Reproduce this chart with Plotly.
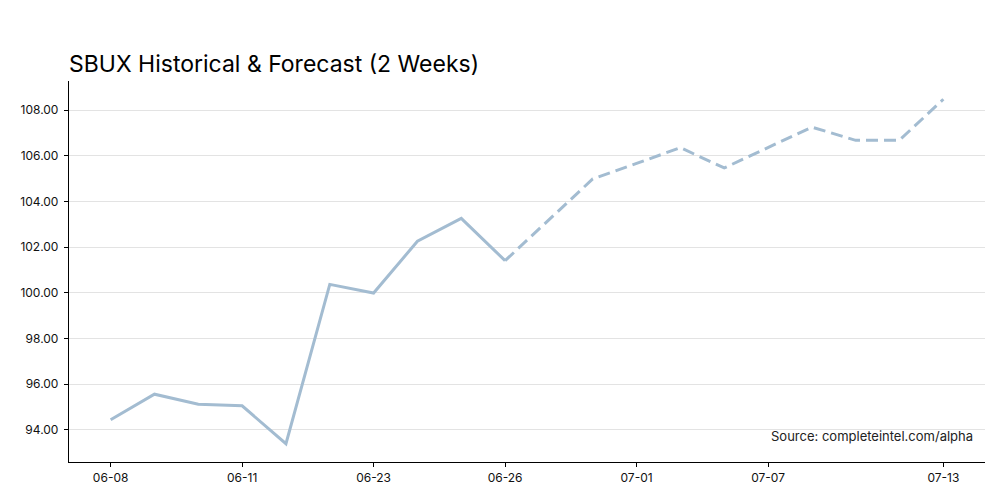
import plotly.graph_objects as go

dates = ["06-08", "06-09", "06-10", "06-11", "06-12", "06-13", "06-23", "06-24", "06-25", "06-26",
         "06-27", "06-30", "07-01", "07-02", "07-03", "07-07", "07-08", "07-09", "07-10", "07-13"]
hist_values = [94.44, 95.56, 95.12, 95.05, 93.39, 100.37, 99.99, 102.26, 103.26, 101.41]
fc_values = [101.41, 103.20, 104.99, 105.67, 106.36, 105.47, 106.36, 107.26, 106.68, 106.69, 108.48]
tick_dates = ["06-08", "06-11", "06-23", "06-26", "07-01", "07-07", "07-13"]
y_ticks = [94, 96, 98, 100, 102, 104, 106, 108]

color = "#a3bcd1"
font = "Inter, Roboto, sans-serif"

fig = go.Figure()
fig.add_trace(go.Scatter(x=dates[:10], y=hist_values, mode="lines",
                         line=dict(color=color, width=3), showlegend=False))
fig.add_trace(go.Scatter(x=dates[9:], y=fc_values, mode="lines",
                         line=dict(color=color, width=3, dash="12px,6px"), showlegend=False))

fig.update_layout(
    width=1000, height=500,
    margin=dict(l=69, r=15, t=81, b=38),
    paper_bgcolor="white", plot_bgcolor="white",
    font=dict(family=font, color="#111", size=12),
    title=dict(text="SBUX Historical & Forecast (2 Weeks)", x=69/1000, xanchor="left",
               y=1 - 64/500, yanchor="middle", font=dict(size=23, color="#000", family=font)),
    xaxis=dict(type="category", categoryorder="array", categoryarray=dates,
               range=[-0.95, 19.95], tickmode="array", tickvals=tick_dates, ticktext=tick_dates,
               showgrid=False, showline=True, linecolor="black", linewidth=1.3,
               ticks="outside", ticklen=4, tickcolor="black", zeroline=False,
               tickfont=dict(size=12)),
    yaxis=dict(range=[92.59, 109.28], tickvals=y_ticks, tickformat=".2f",
               showgrid=True, gridcolor="#e3e3e3", gridwidth=1,
               showline=True, linecolor="black", linewidth=1.3,
               ticks="outside", ticklen=4, tickcolor="black", zeroline=False,
               ticklabelstandoff=3, tickfont=dict(size=12)),
    annotations=[dict(text="Source: completeintel.com/alpha", xref="paper", yref="paper",
                      x=(975-69)/916, y=(462-436)/381, xanchor="right", yanchor="middle",
                      showarrow=False, font=dict(size=13, color="#222", family=font))],
)

fig.write_html("out.html")
